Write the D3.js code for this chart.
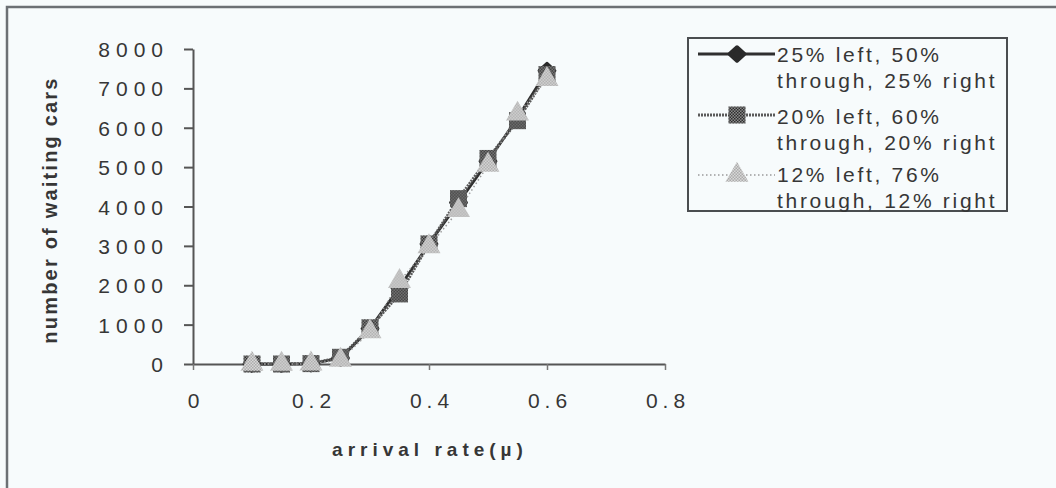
<!DOCTYPE html>
<html>
<head>
<meta charset="utf-8">
<script src="https://cdn.jsdelivr.net/npm/d3@7/dist/d3.min.js"></script>
<style>
  html, body { margin: 0; padding: 0; background: #f7fbfc; }
  svg { display: block; font-family: "Liberation Sans", Arial, sans-serif; }
</style>
</head>
<body>
<svg id="chart" width="1056" height="488"></svg>
<script>
// arrival rate (x) and waiting-car counts for each turning split
const arrivalRates = [0.1, 0.15, 0.2, 0.25, 0.3, 0.35, 0.4, 0.45, 0.5, 0.55, 0.6];
const split25 = [0, 0, 10, 150, 900, 1950, 3050, 4100, 5150, 6250, 7450];
const split20 = [0, 0, 10, 170, 920, 1780, 3050, 4200, 5220, 6180, 7350];
const split12 = [0, 0, 5, 100, 820, 2100, 2980, 3900, 5050, 6350, 7230];

const seriesNames = [
  ["25% left, 50%", "through, 25% right"],
  ["20% left, 60%", "through, 20% right"],
  ["12% left, 76%", "through, 12% right"]
];
const xTicks = [0, 0.2, 0.4, 0.6, 0.8];
const yTicks = [0, 1000, 2000, 3000, 4000, 5000, 6000, 7000, 8000];

const W = 1056, H = 488;
const svg = d3.select("#chart");
const ink = "#363636";

// patterns for the textured markers
const defs = svg.append("defs");
const chk = defs.append("pattern").attr("id", "chkDark")
  .attr("width", 3).attr("height", 3).attr("patternUnits", "userSpaceOnUse");
chk.append("rect").attr("width", 3).attr("height", 3).attr("fill", "#8a8a8a");
chk.append("rect").attr("width", 1.5).attr("height", 1.5).attr("fill", "#2e2e2e");
chk.append("rect").attr("x", 1.5).attr("y", 1.5).attr("width", 1.5).attr("height", 1.5).attr("fill", "#2e2e2e");
const chkL = defs.append("pattern").attr("id", "chkLight")
  .attr("width", 3).attr("height", 3).attr("patternUnits", "userSpaceOnUse");
chkL.append("rect").attr("width", 3).attr("height", 3).attr("fill", "#d8d8d8");
chkL.append("rect").attr("width", 1.5).attr("height", 1.5).attr("fill", "#ababab");
chkL.append("rect").attr("x", 1.5).attr("y", 1.5).attr("width", 1.5).attr("height", 1.5).attr("fill", "#ababab");

svg.append("rect").attr("width", W).attr("height", H).attr("fill", "#f7fbfc");

// outer chart frame (left and top edges)
svg.append("path").attr("d", "M7,488V7H1056")
  .attr("fill", "none").attr("stroke", "#6c7074").attr("stroke-width", 2.5);

const x = d3.scaleLinear().domain([0, 0.8]).range([193, 665]);
const y = d3.scaleLinear().domain([0, 8000]).range([364, 49]);

// y axis
const yAxis = svg.append("g").attr("transform", "translate(193,0)")
  .call(d3.axisLeft(y).tickValues(yTicks).tickSize(9).tickSizeOuter(0).tickPadding(15)
    .tickFormat(d3.format("d")));
yAxis.select(".domain").attr("stroke", "#555").attr("stroke-width", 2);
yAxis.selectAll(".tick line").attr("stroke", "#555").attr("stroke-width", 2);
yAxis.selectAll(".tick text").attr("fill", ink).attr("font-size", 21)
  .attr("letter-spacing", "6px").attr("font-family", "Liberation Sans, Arial, sans-serif")
  .attr("dy", "0.36em");

// x axis
const xAxis = svg.append("g").attr("transform", "translate(0,364)")
  .call(d3.axisBottom(x).tickValues(xTicks).tickSize(6).tickSizeOuter(0).tickPadding(23)
    .tickFormat(d => d === 0 ? "0" : d.toFixed(1)));
xAxis.select(".domain").attr("stroke", "#555").attr("stroke-width", 2);
xAxis.selectAll(".tick line").attr("stroke", "#777").attr("stroke-width", 1.5);
xAxis.selectAll(".tick text").attr("fill", ink).attr("font-size", 21)
  .attr("letter-spacing", "5px").attr("font-family", "Liberation Sans, Arial, sans-serif")
  .attr("dx", "2.5px");

// axis titles
svg.append("text")
  .attr("transform", "translate(57,210) rotate(-90)")
  .attr("text-anchor", "middle").attr("fill", ink)
  .attr("font-size", 20).attr("font-weight", "bold").attr("letter-spacing", "2.2px")
  .text("number of waiting cars");
svg.append("text")
  .attr("x", 430).attr("y", 456)
  .attr("text-anchor", "middle").attr("fill", ink)
  .attr("font-size", 19).attr("font-weight", "bold").attr("letter-spacing", "5px")
  .text("arrival rate(\u00b5)");

// rounded diamond used for the first series
const diamond = { draw(ctx, size) {
  const r = Math.sqrt(size / 2);
  ctx.moveTo(0, -r); ctx.lineTo(r * 1.1, 0); ctx.lineTo(0, r); ctx.lineTo(-r * 1.1, 0); ctx.closePath();
} };

// series styling
const series = [
  { values: split25, stroke: "#2f2f2f", width: 2.8, dash: null,
    marker: diamond, size: 90, fill: "#2a2a2a", mstroke: "#2a2a2a", msw: 4 },
  { values: split20, stroke: "#5a5a5a", width: 3, dash: "2,1",
    marker: d3.symbolSquare, size: 290, fill: "url(#chkDark)", mstroke: "none", msw: 0 },
  { values: split12, stroke: "#9a9a9a", width: 1.5, dash: "1.5,2.5",
    marker: d3.symbolTriangle, size: 230, fill: "url(#chkLight)", mstroke: "none", msw: 0 }
];

const line = d3.line().x(d => x(d[0])).y(d => y(d[1]));

series.forEach(s => {
  const pts = arrivalRates.map((r, i) => [r, s.values[i]]);
  svg.append("path").datum(pts)
    .attr("d", line).attr("fill", "none")
    .attr("stroke", s.stroke).attr("stroke-width", s.width)
    .attr("stroke-dasharray", s.dash);
});
series.forEach(s => {
  const sym = d3.symbol().type(s.marker).size(s.size);
  svg.append("g").selectAll("path")
    .data(arrivalRates.map((r, i) => [r, s.values[i]]))
    .join("path")
    .attr("d", sym)
    .attr("transform", d => `translate(${x(d[0])},${y(d[1])})`)
    .attr("fill", s.fill).attr("stroke", s.mstroke).attr("stroke-width", s.msw)
    .attr("stroke-linejoin", "round");
});

// legend
const lg = svg.append("g");
lg.append("rect").attr("x", 688).attr("y", 38).attr("width", 319).attr("height", 173)
  .attr("fill", "#f7fbfc").attr("stroke", "#4a4d50").attr("stroke-width", 2);
const rowY = [54, 115, 175];
const textY = [62, 124, 182];
series.forEach((s, i) => {
  const yy = rowY[i];
  lg.append("line").attr("x1", 698).attr("x2", 775).attr("y1", yy).attr("y2", yy)
    .attr("stroke", s.stroke).attr("stroke-width", s.width).attr("stroke-dasharray", s.dash);
  lg.append("path").attr("d", d3.symbol().type(s.marker).size(s.size)())
    .attr("transform", `translate(737,${yy})`)
    .attr("fill", s.fill).attr("stroke", s.mstroke).attr("stroke-width", s.msw)
    .attr("stroke-linejoin", "round");
  seriesNames[i].forEach((t, j) => {
    lg.append("text").attr("x", 777).attr("y", textY[i] + j * 26)
      .attr("fill", ink).attr("font-size", 21).attr("letter-spacing", "2.7px")
      .text(t);
  });
});
</script>
</body>
</html>
